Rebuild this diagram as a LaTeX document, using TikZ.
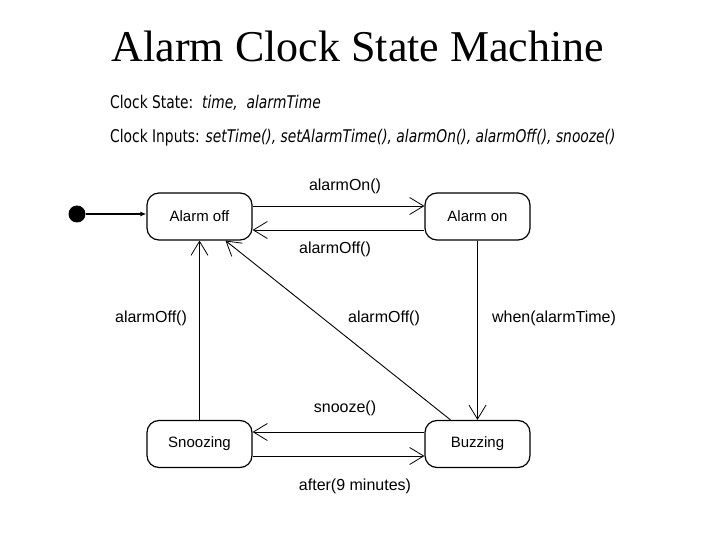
\documentclass[tikz,border=0pt]{standalone}
\usepackage{fontspec}
\setmainfont{Liberation Sans}
\newfontfamily\titlefont{Liberation Serif}
\newfontfamily\headfont[FakeStretch=0.79]{DejaVu Sans}
\usetikzlibrary{arrows.meta,positioning}
\tikzset{
  stnode/.style={draw=black, line width=1.2pt, fill=white, rounded corners=12pt,
    minimum width=105pt, minimum height=47pt, inner sep=0pt,
    font=\fontsize{15}{17}\selectfont},
  trarrow/.style={-{Straight Barb[length=14pt,width=17pt,line width=0.8pt]}, line width=0.9pt},
  trlabel/.style={font=\fontsize{16}{18}\selectfont, inner sep=0pt},
  headtext/.style={font=\headfont\fontsize{17.5}{20}\selectfont, anchor=base west, inner sep=0pt}
}

\begin{document}
\begin{tikzpicture}[x=1pt,y=-1pt]
  \useasboundingbox (0,0) rectangle (720,540);
  \node[font=\titlefont\fontsize{44}{50}\selectfont, anchor=base, inner sep=0pt] (title) at (358,62) {Alarm Clock State Machine};
  \node[headtext] (hstate) at (110,109) {Clock State:\ \ \textit{time,\ \ alarmTime}};
  \node[headtext] (hinput) at (110,143) {Clock Inputs: \textit{setTime(), setAlarmTime(), alarmOn(), alarmOff(), snooze()}};
  % states
  \node[stnode] (aoff) at (199.5,216.5) {Alarm off};
  \node[stnode] (aon) at (477.5,216.5) {Alarm on};
  \node[stnode] (snz) at (199.5,444) {Snoozing};
  \node[stnode] (buzz) at (477.5,444) {Buzzing};
  \node[circle, fill=black, minimum size=17pt, inner sep=0pt] (init) at (77,214) {};
  % transitions
  \draw[-{Latex[length=6pt,width=5pt]}, line width=1.2pt] (init) -- (aoff.west |- init);
  \draw[trarrow] ([yshift=10.5pt]aoff.east) -- ([yshift=10.5pt]aon.west);
  \draw[trarrow] ([yshift=-13.5pt]aon.west) -- ([yshift=-13.5pt]aoff.east);
  \draw[trarrow] (aon) -- (buzz);
  \draw[trarrow] (snz) -- (aoff);
  \draw[trarrow] ([xshift=-27pt]buzz.north) -- ([xshift=26pt]aoff.south);
  \draw[trarrow] ([yshift=12pt]buzz.west) -- ([yshift=12pt]snz.east);
  \draw[trarrow] ([yshift=-12pt]snz.east) -- ([yshift=-12pt]buzz.west);
  % labels
  \node[trlabel] (lon) at (345,186) {alarmOn()};
  \node[trlabel] (loff) at (335,249) {alarmOff()};
  \node[trlabel] (lleft) at (151,318) {alarmOff()};
  \node[trlabel] (ldiag) at (384,318) {alarmOff()};
  \node[trlabel] (lwhen) at (554,318) {when(alarmTime)};
  \node[trlabel] (lsnz) at (345,408) {snooze()};
  \node[trlabel] (lafter) at (355,486) {after(9 minutes)};
\end{tikzpicture}
\end{document}
